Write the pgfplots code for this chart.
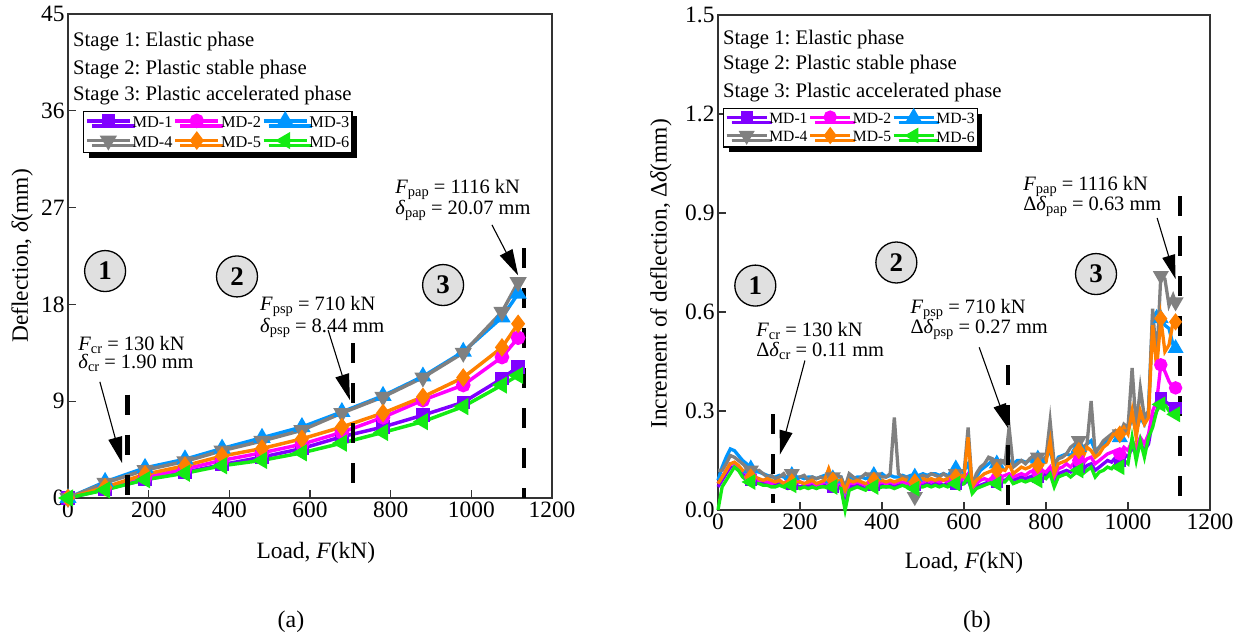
\documentclass[border=0pt]{standalone}
\usepackage{fontspec}
\setmainfont{Liberation Serif}
\usepackage{pgfplots}
\usepackage{pgfplotstable}
\pgfplotsset{compat=1.18}
\usetikzlibrary{arrows.meta,shadows}
\frenchspacing

% small, slightly lowered index text used in the annotations
\newcommand\sub[1]{\raisebox{-0.14em}{\fontsize{14.5}{14.5}\selectfont #1}}

\definecolor{mdone}{RGB}{128,0,255}
\definecolor{mdtwo}{RGB}{255,0,255}
\definecolor{mdthree}{RGB}{0,150,255}
\definecolor{mdfour}{RGB}{128,128,128}
\definecolor{mdfive}{RGB}{255,128,0}
\definecolor{mdsix}{RGB}{20,235,20}

% Deflection at each load step (kN, mm)
\pgfplotstableread{
F     MD1   MD2   MD3   MD4    MD5   MD6
0     0     0     0     0      0     0
92    0.8   1.0   1.5   1.4    1.0   0.75
191   1.7   1.9   2.8   2.6    2.2   1.7
290   2.4   2.7   3.6   3.4    3.0   2.3
382   3.1   3.5   4.6   4.4    3.9   3.0
481   3.8   4.2   5.6   5.3    4.6   3.5
580   4.6   5.0   6.6   6.3    5.5   4.2
679   5.7   6.1   8.0   7.9    6.6   5.1
781   6.6   7.5   9.5   9.4    7.9   6.1
880   7.7   9.1   11.3  11.2   9.4   7.1
980   8.9   10.5  13.6  13.5   11.2  8.5
1076  11.1  13.1  16.8  17.3   14.0  10.5
1116  12.2  14.9  19.0  20.07  16.2  11.4
}\deflection

% Increment of deflection per load step (kN, mm)
\pgfplotstableread{
F     MD1    MD2    MD3    MD4    MD5    MD6
0     0.07   0.08   0.09   0.12   0.08   0.00
10    0.09   0.10   0.13   0.12   0.10   0.07
20    0.11   0.12   0.16   0.14   0.12   0.09
30    0.13   0.14   0.185  0.165  0.14   0.11
40    0.13   0.14   0.18   0.16   0.145  0.13
50    0.12   0.13   0.165  0.15   0.135  0.12
60    0.11   0.12   0.15   0.14   0.12   0.10
70    0.10   0.11   0.14   0.13   0.115  0.09
80    0.09   0.10   0.125  0.12   0.10   0.085
90    0.09   0.095  0.12   0.115  0.10   0.08
100   0.085  0.09   0.115  0.12   0.095  0.08
110   0.08   0.09   0.11   0.11   0.09   0.075
120   0.08   0.085  0.105  0.10   0.095  0.075
130   0.08   0.08   0.10   0.105  0.09   0.07
140   0.075  0.085  0.10   0.095  0.085  0.07
150   0.08   0.09   0.105  0.10   0.09   0.075
160   0.075  0.08   0.10   0.11   0.08   0.07
170   0.07   0.085  0.095  0.09   0.09   0.065
180   0.08   0.09   0.105  0.11   0.085  0.075
190   0.075  0.08   0.10   0.095  0.09   0.07
200   0.07   0.085  0.10   0.10   0.085  0.065
210   0.075  0.08   0.095  0.105  0.08   0.07
220   0.07   0.08   0.10   0.09   0.085  0.065
230   0.075  0.085  0.10   0.10   0.09   0.07
240   0.07   0.075  0.095  0.095  0.08   0.065
250   0.07   0.08   0.10   0.10   0.085  0.07
260   0.075  0.085  0.105  0.095  0.09   0.07
270   0.07   0.08   0.10   0.11   0.125  0.065
280   0.07   0.08   0.095  0.10   0.09   0.07
290   0.075  0.085  0.10   0.105  0.085  0.07
300   0.07   0.08   0.10   0.10   0.09   0.065
310   0.04   0.05   0.06   0.07   0.06   0.00
320   0.07   0.08   0.10   0.11   0.09   0.06
330   0.07   0.08   0.095  0.10   0.085  0.065
340   0.075  0.085  0.10   0.09   0.09   0.07
350   0.07   0.08   0.10   0.10   0.085  0.065
360   0.065  0.075  0.095  0.11   0.08   0.06
370   0.07   0.08   0.10   0.10   0.085  0.07
380   0.075  0.085  0.105  0.10   0.09   0.07
390   0.07   0.08   0.10   0.105  0.085  0.065
400   0.075  0.085  0.11   0.10   0.09   0.07
410   0.07   0.08   0.10   0.10   0.085  0.07
420   0.075  0.085  0.105  0.11   0.09   0.07
430   0.07   0.08   0.10   0.28   0.085  0.065
440   0.075  0.085  0.10   0.11   0.09   0.07
450   0.08   0.085  0.105  0.10   0.095  0.075
460   0.075  0.08   0.10   0.10   0.09   0.07
470   0.08   0.085  0.105  0.08   0.09   0.075
480   0.075  0.08   0.10   0.04   0.085  0.065
490   0.08   0.085  0.105  0.10   0.09   0.07
500   0.075  0.085  0.11   0.105  0.095  0.07
510   0.08   0.09   0.105  0.10   0.09   0.075
520   0.075  0.085  0.11   0.11   0.095  0.07
530   0.08   0.09   0.11   0.105  0.09   0.075
540   0.08   0.085  0.105  0.10   0.095  0.07
550   0.075  0.09   0.11   0.11   0.09   0.075
560   0.08   0.085  0.105  0.10   0.095  0.07
570   0.085  0.09   0.11   0.105  0.10   0.075
580   0.08   0.095  0.125  0.11   0.10   0.08
590   0.085  0.09   0.115  0.10   0.105  0.075
600   0.08   0.095  0.12   0.11   0.10   0.08
610   0.09   0.11   0.14   0.25   0.22   0.10
620   0.06   0.065  0.08   0.07   0.07   0.05
630   0.07   0.08   0.10   0.11   0.09   0.065
640   0.075  0.09   0.12   0.13   0.10   0.07
650   0.08   0.095  0.13   0.14   0.11   0.075
660   0.085  0.09   0.14   0.16   0.115  0.08
670   0.09   0.10   0.15   0.155  0.12   0.085
680   0.085  0.095  0.14   0.14   0.12   0.08
690   0.09   0.10   0.15   0.15   0.125  0.085
700   0.09   0.105  0.145  0.14   0.12   0.085
710   0.10   0.11   0.15   0.25   0.14   0.10
720   0.09   0.10   0.14   0.13   0.11   0.08
730   0.095  0.105  0.15   0.14   0.12   0.085
740   0.10   0.11   0.15   0.15   0.13   0.09
750   0.095  0.105  0.145  0.14   0.125  0.085
760   0.10   0.115  0.15   0.155  0.13   0.09
770   0.105  0.12   0.16   0.165  0.14   0.095
780   0.10   0.115  0.155  0.16   0.135  0.09
790   0.11   0.12   0.15   0.15   0.14   0.10
800   0.105  0.115  0.16   0.16   0.145  0.095
810   0.12   0.13   0.18   0.27   0.21   0.11
820   0.09   0.10   0.13   0.14   0.11   0.07
830   0.11   0.125  0.16   0.155  0.14   0.10
840   0.115  0.13   0.165  0.16   0.145  0.105
850   0.12   0.14   0.17   0.17   0.15   0.11
860   0.115  0.13   0.165  0.19   0.16   0.10
870   0.125  0.145  0.18   0.20   0.17   0.11
880   0.13   0.15   0.19   0.21   0.18   0.12
890   0.12   0.14   0.175  0.19   0.16   0.11
900   0.135  0.155  0.20   0.20   0.19   0.12
910   0.14   0.16   0.21   0.33   0.18   0.13
920   0.12   0.14   0.18   0.17   0.16   0.10
930   0.13   0.15   0.19   0.19   0.17   0.115
940   0.14   0.16   0.20   0.21   0.19   0.12
950   0.15   0.17   0.21   0.22   0.20   0.13
960   0.145  0.175  0.22   0.23   0.22   0.125
970   0.16   0.18   0.23   0.24   0.24   0.14
980   0.15   0.17   0.22   0.23   0.23   0.13
990   0.17   0.19   0.25   0.26   0.25   0.15
1000  0.16   0.18   0.24   0.25   0.23   0.14
1010  0.19   0.21   0.28   0.43   0.30   0.22
1020  0.17   0.19   0.24   0.25   0.22   0.15
1030  0.20   0.22   0.28   0.37   0.30   0.21
1040  0.18   0.20   0.26   0.28   0.26   0.16
1050  0.20   0.23   0.30   0.30   0.28   0.22
1060  0.27   0.30   0.58   0.61   0.56   0.25
1070  0.30   0.33   0.60   0.45   0.43   0.30
1080  0.34   0.44   0.58   0.71   0.58   0.32
1090  0.33   0.42   0.56   0.70   0.48   0.32
1100  0.32   0.39   0.55   0.62   0.50   0.30
1110  0.31   0.37   0.50   0.65   0.57   0.29
1116  0.31   0.37   0.49   0.63   0.57   0.29
}\increment

\pgfplotsset{
  panel/.style={
    scale only axis,
    xmin=0, xmax=1200,
    xtick={0,200,400,600,800,1000,1200},
    tick align=inside,
    tick pos=left,
    major tick length=8bp,
    axis line style={line width=1.2bp, black!80},
    every tick/.style={line width=1.2bp, black!80},
    tick label style={font=\fontsize{23.5}{28}\selectfont},
    label style={font=\fontsize{23.5}{28}\selectfont},
    /pgf/number format/assume math mode=true,
    /pgf/number format/1000 sep={},
    clip=false,
    legend columns=3,
    legend cell align=left,
  },
  md1/.style={color=mdone, mark=square*, mark size=5bp},
  md2/.style={color=mdtwo, mark=*, mark size=5.5bp},
  md3/.style={color=mdthree, mark=triangle*, mark size=6.5bp},
  md4/.style={color=mdfour, mark=triangle*, mark size=6.5bp, every mark/.append style={rotate=180}},
  md5/.style={color=mdfive, mark=diamond*, mark size=6.5bp},
  md6/.style={color=mdsix, mark=triangle*, mark size=6.5bp, every mark/.append style={rotate=90}},
}
\tikzset{
  stagecircle/.style={circle, draw=black, line width=1.3bp, fill=black!12,
    minimum size=41bp, inner sep=0pt, font=\fontsize{27}{27}\selectfont\bfseries},
  pointer/.style={draw=black, line width=1.1bp, -{Triangle[length=26bp,width=14bp]}},
  bound/.style={draw=black, line width=4.5bp, dash pattern=on 20bp off 20bp},
  note/.style={anchor=west, align=left, inner sep=0pt, font=\fontsize{20.5}{18.5}\selectfont},
  widenote/.style={note, font=\fontsize{20.5}{20.5}\selectfont},
  stagetext/.style={anchor=base west, inner sep=0pt, font=\fontsize{20.8}{24}\selectfont},
}

\begin{document}
\begin{tikzpicture}
\path (0bp,0bp) rectangle (1243bp,642bp);

% ---------- (a) deflection ----------
\begin{axis}[panel,
  at={(68bp,144bp)}, anchor=south west,
  width=484bp, height=484bp,
  ymin=0, ymax=45, ytick={0,9,18,27,36,45},
  xlabel={Load, \textit{F}(kN)},
  ylabel={Deflection, \textit{δ}(mm)},
  xlabel style={at={(axis description cs:0.512,-0.113)}, anchor=center},
  ylabel style={at={(axis description cs:-0.095,0.5)}, anchor=center},
  every axis plot/.append style={line width=3.5bp, mark options={solid}},
  legend image code/.code={\draw[#1, mark indices={2}] plot coordinates {(0bp,2bp) (21.5bp,2bp) (43bp,2bp)};},
  legend style={at={(0.031,0.80)}, anchor=north west, draw=black, line width=1.2bp, fill=white,
    inner xsep=1.5bp, inner ysep=3bp, row sep=4bp, font=\fontsize{16.4}{19}\selectfont,
    nodes={inner sep=1bp},
    /tikz/every even column/.append style={column sep=0pt},
    drop shadow={shadow xshift=5bp, shadow yshift=-5bp, fill=black, opacity=1}},
]
\addplot[md1] table[x=F, y=MD1] {\deflection};
\addplot[md2] table[x=F, y=MD2] {\deflection};
\addplot[md3] table[x=F, y=MD3] {\deflection};
\addplot[md4] table[x=F, y=MD4] {\deflection};
\addplot[md5] table[x=F, y=MD5] {\deflection};
\addplot[md6] table[x=F, y=MD6] {\deflection};
\legend{MD-1, MD-2, MD-3, MD-4, MD-5, MD-6}

\node[stagetext] at (rel axis cs:0.01,0.932) {Stage 1: Elastic phase};
\node[stagetext] at (rel axis cs:0.01,0.876) {Stage 2: Plastic stable phase};
\node[stagetext] at (rel axis cs:0.01,0.822) {Stage 3: Plastic accelerated phase};

\node[stagecircle] at (axis cs:92,21.1) {1};
\node[stagecircle] at (axis cs:419,20.6) {2};
\node[stagecircle] at (axis cs:930,19.8) {3};

\draw[bound] (axis cs:148,9.6) -- (axis cs:148,0);
\draw[bound] (axis cs:707,14.4) -- (axis cs:707,0);
\draw[bound] (axis cs:1131,23.2) -- (axis cs:1131,0);

\node[note] at (axis cs:25,13.4) {\textit{F}\sub{cr} = 130 kN\\\textit{δ}\sub{cr} = 1.90 mm};
\node[note] at (axis cs:476,16.8) {\textit{F}\sub{psp} = 710 kN\\\textit{δ}\sub{psp} = 8.44 mm};
\node[note] at (axis cs:811,27.7) {\textit{F}\sub{pap} = 1116 kN\\\textit{δ}\sub{pap} = 20.07 mm};

\draw[pointer] (axis cs:79,10.8) -- (axis cs:134,3.25);
\draw[pointer] (axis cs:645,15.6) -- (axis cs:699,9.1);
\draw[pointer] (axis cs:1051,25.4) -- (axis cs:1116,20.7);
\end{axis}

% ---------- (b) increment of deflection ----------
\begin{axis}[panel,
  at={(718bp,132bp)}, anchor=south west,
  width=492bp, height=495bp,
  ymin=0, ymax=1.5, ytick={0,0.3,0.6,0.9,1.2,1.5},
  yticklabel style={/pgf/number format/.cd, fixed, fixed zerofill, precision=1},
  xlabel={Load, \textit{F}(kN)},
  ylabel={Increment of deflection, Δ\textit{δ}(mm)},
  xlabel style={at={(axis description cs:0.5,-0.107)}, anchor=center},
  ylabel style={at={(axis description cs:-0.116,0.477)}, anchor=center},
  every axis plot/.append style={line width=3.3bp, mark options={solid},
    mark indices={9,19,29,39,49,59,69,79,89,99,109,113}},
  legend image code/.code={\draw[#1, mark indices={2}] plot coordinates {(0bp,2bp) (20bp,2bp) (40bp,2bp)};},
  legend style={at={(0.01,0.812)}, anchor=north west, draw=black, line width=1.2bp, fill=white,
    inner xsep=1.5bp, inner ysep=2.5bp, row sep=3.5bp, font=\fontsize{15.7}{18}\selectfont,
    nodes={inner sep=1bp},
    /tikz/every even column/.append style={column sep=0pt},
    drop shadow={shadow xshift=5bp, shadow yshift=-5bp, fill=black, opacity=1}},
]
\addplot[md1, mark size=4.5bp] table[x=F, y=MD1] {\increment};
\addplot[md2, mark size=5bp] table[x=F, y=MD2] {\increment};
\addplot[md3, mark size=6bp] table[x=F, y=MD3] {\increment};
\addplot[md4, mark size=6bp] table[x=F, y=MD4] {\increment};
\addplot[md5, mark size=6bp] table[x=F, y=MD5] {\increment};
\addplot[md6, mark size=6bp] table[x=F, y=MD6] {\increment};
\legend{MD-1, MD-2, MD-3, MD-4, MD-5, MD-6}

\node[stagetext] at (rel axis cs:0.01,0.941) {Stage 1: Elastic phase};
\node[stagetext] at (rel axis cs:0.01,0.889) {Stage 2: Plastic stable phase};
\node[stagetext] at (rel axis cs:0.01,0.834) {Stage 3: Plastic accelerated phase};

\node[stagecircle] at (axis cs:91,0.68) {1};
\node[stagecircle] at (axis cs:435,0.75) {2};
\node[stagecircle] at (axis cs:922,0.715) {3};

\draw[bound, line width=4bp] (axis cs:135,0.29) -- (axis cs:135,0.02);
\draw[bound, line width=4bp] (axis cs:707,0.44) -- (axis cs:707,0);
\draw[bound, line width=4bp] (axis cs:1126,0.95) -- (axis cs:1126,0.03);

\node[widenote] at (axis cs:93,0.512) {\textit{F}\sub{cr} = 130 kN\\Δ\textit{δ}\sub{cr} = 0.11 mm};
\node[widenote] at (axis cs:469,0.577) {\textit{F}\sub{psp} = 710 kN\\Δ\textit{δ}\sub{psp} = 0.27 mm};
\node[widenote] at (axis cs:744,0.95) {\textit{F}\sub{pap} = 1116 kN\\Δ\textit{δ}\sub{pap} = 0.63 mm};

\draw[pointer, -{Triangle[length=24bp,width=13bp]}] (axis cs:212,0.453) -- (axis cs:151,0.168);
\draw[pointer, -{Triangle[length=24bp,width=13bp]}] (axis cs:637,0.493) -- (axis cs:707,0.249);
\draw[pointer, -{Triangle[length=24bp,width=13bp]}] (axis cs:1071,0.885) -- (axis cs:1116,0.70);
\end{axis}

\node[font=\fontsize{24}{28}\selectfont] at (291bp,20bp) {(a)};
\node[font=\fontsize{24}{28}\selectfont] at (977bp,20bp) {(b)};
\end{tikzpicture}
\end{document}
